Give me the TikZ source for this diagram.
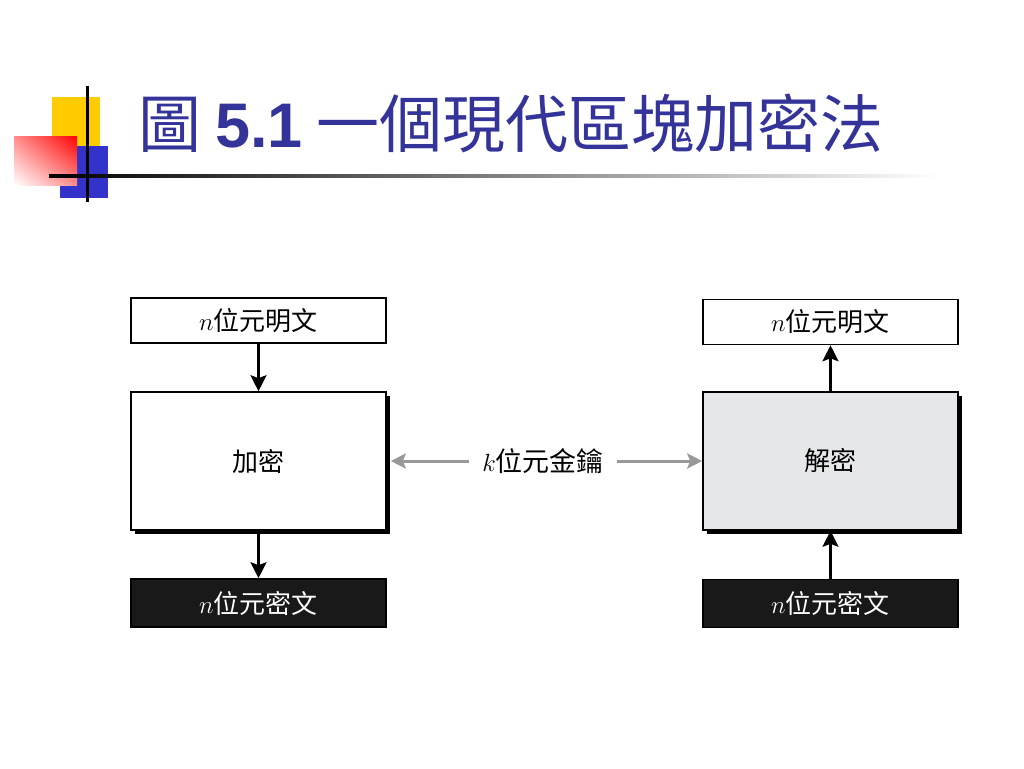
\documentclass[tikz,border=0pt]{standalone}
\usepackage{fontspec}
\setsansfont{Liberation Sans}
\newfontfamily\cjk{Noto Sans CJK TC}
\usetikzlibrary{arrows.meta,shadows,shadings}
\definecolor{titleblue}{RGB}{51,51,153}
\definecolor{decoyellow}{RGB}{255,204,0}
\definecolor{decoblue}{RGB}{51,51,204}
\definecolor{decgray}{RGB}{230,231,233}
\definecolor{keygray}{RGB}{153,153,153}
\tikzset{
  stagebox/.style={draw=black, line width=1.6pt, minimum width=255pt,
    minimum height=45pt, inner sep=0pt, font=\cjk\fontsize{26}{30}\selectfont},
  plainbox/.style={stagebox, fill=white},
  cipherbox/.style={stagebox, fill=black!90, text=white, minimum height=48pt},
  cryptbox/.style={stagebox, fill=white, minimum height=138pt,
    general shadow={fill=black, shadow xshift=4pt, shadow yshift=-4pt}},
  flow/.style={line width=2.4pt, -{Stealth[length=16pt,width=16pt,inset=3pt]}},
  keyflow/.style={line width=3pt, keygray, -{Stealth[length=15pt,width=15pt,inset=3pt]}},
}
\begin{document}
\begin{tikzpicture}[x=1pt,y=-1pt]
  \fill[white] (0,0) rectangle (1024,768);
  \useasboundingbox (0,0) rectangle (1024,768);
  % title decoration
  \fill[decoyellow] (52,97) rectangle (100,148);
  \fill[decoblue] (60,146) rectangle (108,198);
  \shade[upper right=red, upper left=red!45, lower right=red!45, lower left=white]
    (14,136) rectangle (77,185);
  \shade[left color=black, middle color=black!60, right color=white]
    (49,174.5) rectangle (940,177.5);
  \draw[line width=3pt] (87,86) -- (87,202);
  \node[anchor=base west, text=titleblue, inner sep=0pt,
    font=\cjk\fontsize{63}{70}\selectfont] (title) at (138,147)
    {圖\hspace{14pt}{\sffamily\bfseries 5.1}\hspace{14pt}一個現代區塊加密法};
  % encryption side
  \node[plainbox] (ptL) at (258.5,320.5) {$n$位元明文};
  \node[cryptbox] (enc) at (258.5,461) {加密};
  \node[cipherbox] (ctL) at (258.5,603) {$n$位元密文};
  % decryption side
  \node[plainbox] (ptR) at (830.5,322) {$n$位元明文};
  \node[cryptbox, fill=decgray] (dec) at (830.5,461) {解密};
  \node[cipherbox] (ctR) at (830.5,603.5) {$n$位元密文};
  % key
  \node[font=\cjk\fontsize{27}{30}\selectfont, inner xsep=13pt] (key) at (543,461)
    {$k$位元金鑰};
  \draw[flow] (ptL) -- (enc);
  \draw[flow] (enc) -- (ctL);
  \draw[flow] (ctR) -- (dec);
  \draw[flow] (dec) -- (ptR);
  \draw[keyflow, shorten >=4pt] (key) -- (enc);
  \draw[keyflow] (key) -- (dec);
\end{tikzpicture}
\end{document}
